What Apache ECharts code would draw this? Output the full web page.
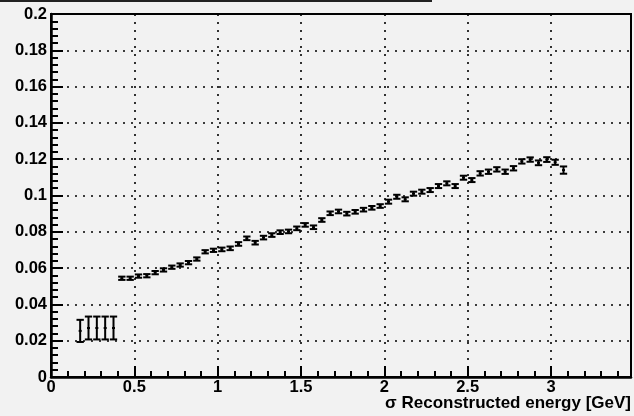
<!DOCTYPE html>
<html>
<head>
<meta charset="utf-8">
<script src="https://cdn.jsdelivr.net/npm/echarts@6/dist/echarts.min.js"></script>
<style>
html,body{margin:0;padding:0;background:#f2f2f2;}
#c{width:634px;height:416px;}
</style>
</head>
<body>
<div id="c"></div>
<script>
// Low-energy group
var lowX = [0.175, 0.225, 0.275, 0.325, 0.375];
var lowY = [0.0254, 0.0270, 0.0270, 0.0270, 0.0270];
var lowErr = [0.0061, 0.0063, 0.0063, 0.0063, 0.0063];

// Main group
var mainX = [0.425,0.475,0.525,0.575,0.625,0.675,0.725,0.775,0.825,0.875,
             0.925,0.975,1.025,1.075,1.125,1.175,1.225,1.275,1.325,1.375,
             1.425,1.475,1.525,1.575,1.625,1.675,1.725,1.775,1.825,1.875,
             1.925,1.975,2.025,2.075,2.125,2.175,2.225,2.275,2.325,2.375,
             2.425,2.475,2.525,2.575,2.625,2.675,2.725,2.775,2.825,2.875,
             2.925,2.975,3.025,3.075];
var mainY = [0.0544,0.0544,0.0556,0.0558,0.0575,0.0590,0.0605,0.0617,0.0630,0.0650,
             0.0690,0.0698,0.0703,0.0709,0.0733,0.0764,0.0740,0.0768,0.0782,0.0798,
             0.0802,0.0819,0.0838,0.0825,0.0865,0.0902,0.0912,0.0900,0.0910,0.0922,
             0.0932,0.0942,0.0966,0.0993,0.0979,0.1010,0.1021,0.1030,0.1052,0.1067,
             0.1052,0.1098,0.1085,0.1122,0.1131,0.1144,0.1131,0.1150,0.1188,0.1198,
             0.1180,0.1198,0.1183,0.1140];
var mainErr = [0.0009,0.0009,0.0009,0.0009,0.0009,0.0009,0.0009,0.0009,0.0009,0.0009,
               0.0009,0.0009,0.0010,0.0010,0.0010,0.0010,0.0010,0.0010,0.0010,0.0010,
               0.0010,0.0010,0.0010,0.0010,0.0010,0.0010,0.0010,0.0010,0.0010,0.0010,
               0.0010,0.0010,0.0011,0.0011,0.0011,0.0011,0.0011,0.0011,0.0011,0.0011,
               0.0011,0.0011,0.0011,0.0012,0.0012,0.0012,0.0012,0.0012,0.0012,0.0012,
               0.0013,0.0013,0.0014,0.0020];
var binHalf = 0.025;

var xTicks = [0, 0.5, 1, 1.5, 2, 2.5, 3];

function build(xs, ys, es) {
  return xs.map(function (x, i) { return [x, ys[i], es[i]]; });
}

function renderErr(params, api) {
  var x = api.value(0), y = api.value(1), e = api.value(2);
  var pL = api.coord([x - binHalf, y]);
  var pR = api.coord([x + binHalf, y]);
  var pT = api.coord([x, y + e]);
  var pB = api.coord([x, y - e]);
  var pC = api.coord([x, y]);
  var st = {stroke: '#000', lineWidth: 2};
  var l = pL[0] + 0.5, r = pR[0] - 0.5;
  return {
    type: 'group',
    children: [
      {type: 'line', shape: {x1: pT[0], y1: pT[1], x2: pB[0], y2: pB[1]}, style: st},
      {type: 'line', shape: {x1: l, y1: pT[1], x2: r, y2: pT[1]}, style: st},
      {type: 'line', shape: {x1: l, y1: pB[1], x2: r, y2: pB[1]}, style: st},
      {type: 'rect', shape: {x: pC[0] - 1.5, y: pC[1] - 1, width: 3, height: 2}, style: {fill: '#000'}}
    ]
  };
}

var chart = echarts.init(document.getElementById('c'));
var font = '"Liberation Sans", Arial, sans-serif';
var dotted = {color: '#000', width: 1.6, type: [2, 6]};

chart.setOption({
  backgroundColor: '#f2f2f2',
  animation: false,
  grid: {left: 51, right: 3, top: 14, bottom: 39, show: true, borderColor: '#000', borderWidth: 2, backgroundColor: 'transparent'},
  xAxis: {
    type: 'value', min: 0, max: 3.48, interval: 0.5,
    axisLine: {show: true, onZero: false, lineStyle: {color: '#000', width: 2.5}},
    axisTick: {show: true, inside: true, length: 11, lineStyle: {color: '#000', width: 2}},
    minorTick: {show: true, splitNumber: 5, length: 6, lineStyle: {color: '#000', width: 2}},
    splitLine: {show: true, lineStyle: dotted},
    axisLabel: {
      color: '#000', fontFamily: font, fontWeight: 'bold', fontSize: 16.5, margin: 2,
      formatter: function (v) {
        for (var i = 0; i < xTicks.length; i++) { if (Math.abs(v - xTicks[i]) < 1e-6) return String(xTicks[i]); }
        return '';
      }
    }
  },
  yAxis: {
    type: 'value', min: 0, max: 0.2, interval: 0.02,
    axisLine: {show: true, onZero: false, lineStyle: {color: '#000', width: 2.5}},
    axisTick: {show: true, inside: true, length: 12, lineStyle: {color: '#000', width: 2}},
    minorTick: {show: true, splitNumber: 5, length: 7, lineStyle: {color: '#000', width: 2}},
    splitLine: {show: true, lineStyle: dotted},
    axisLabel: {
      color: '#000', fontFamily: font, fontWeight: 'bold', fontSize: 16.5, margin: 4,
      formatter: function (v) { return String(Math.round(v * 1000) / 1000); }
    }
  },
  graphic: [
    {type: 'rect', left: 0, top: 0, shape: {width: 432, height: 2}, style: {fill: '#222'}, silent: true},
    {type: 'text', right: 3, top: 395, style: {text: 'σ Reconstructed energy [GeV]', fill: '#000', font: 'bold 17px "Liberation Sans", Arial, sans-serif'}}
  ],
  series: [
    {type: 'custom', renderItem: renderErr, data: build(lowX, lowY, lowErr), encode: {x: 0, y: 1}, clip: true},
    {type: 'custom', renderItem: renderErr, data: build(mainX, mainY, mainErr), encode: {x: 0, y: 1}, clip: true}
  ]
});
</script>
</body>
</html>
